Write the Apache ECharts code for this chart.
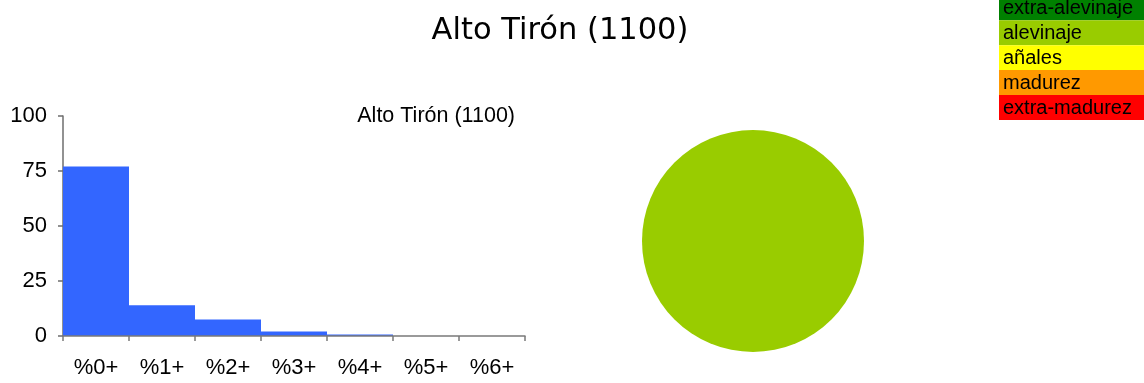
<!DOCTYPE html>
<html>
<head>
<meta charset="utf-8">
<script src="https://cdn.jsdelivr.net/npm/echarts@6/dist/echarts.min.js"></script>
<style>
  html, body { margin: 0; padding: 0; background: #fff; }
  #chart { width: 1144px; height: 383px; }
</style>
</head>
<body>
<div id="chart"></div>
<script>
// Station title
const stationName = 'Alto Tirón (1100)';

// Size-class histogram (percent of catch)
const classLabels = ['%0+', '%1+', '%2+', '%3+', '%4+', '%5+', '%6+'];
const classValues = [77, 14, 7.5, 2, 0.7, 0, 0];
const yTicks = [0, 25, 50, 75, 100];

// Life-stage composition shown in the pie
const stageNames = ['extra-alevinaje', 'alevinaje', 'añales', 'madurez', 'extra-madurez'];
const stageValues = [0, 100, 0, 0, 0];
const stageColors = ['#008000', '#99CC00', '#FFFF00', '#FF9900', '#FF0000'];

const FONT = '"Liberation Sans", Arial, sans-serif';
const BAR_BLUE = '#3366FF';

const chart = echarts.init(document.getElementById('chart'), null, { renderer: 'canvas' });

// Stage key: coloured rows stacked in the top-right corner
const keyRows = [];
stageNames.forEach((name, i) => {
  const top = -4.6 + 24.9 * i;
  keyRows.push({
    type: 'rect',
    shape: { x: 999, y: top, width: 150, height: 24.9 },
    style: { fill: stageColors[i] },
    silent: true
  });
  keyRows.push({
    type: 'text',
    x: 1003,
    y: top + 13,
    style: {
      text: name,
      fill: '#000',
      font: '20px ' + FONT,
      verticalAlign: 'middle',
      align: 'left'
    },
    silent: true
  });
});

chart.setOption({
  animation: false,
  backgroundColor: '#fff',
  graphic: [
    {
      type: 'text',
      x: 560,
      y: 31,
      style: {
        text: stationName,
        fill: '#000',
        font: '30.5px "DejaVu Sans", sans-serif',
        align: 'center',
        verticalAlign: 'middle'
      }
    },
    {
      type: 'text',
      x: 515,
      y: 116,
      style: {
        text: stationName,
        fill: '#000',
        font: '21.5px ' + FONT,
        align: 'right',
        verticalAlign: 'middle'
      }
    }
  ].concat(keyRows),
  // 462px plot width -> 66px per class, so adjacent bars meet on whole pixels
  grid: { left: 63, right: 619, top: 116, bottom: 47, containLabel: false },
  xAxis: {
    type: 'category',
    z: 3, // axis line drawn over the bar bottoms
    data: classLabels,
    boundaryGap: true,
    axisLine: { lineStyle: { color: '#7a7a7a', width: 1.5 } },
    axisTick: { show: true, length: 5, lineStyle: { color: '#7a7a7a', width: 1.5 } },
    axisLabel: { color: '#000', fontFamily: FONT, fontSize: 22, margin: 21 },
    splitLine: { show: false },
    splitArea: { show: false }
  },
  yAxis: {
    type: 'value',
    min: yTicks[0],
    max: yTicks[yTicks.length - 1],
    interval: 25,
    axisLine: { show: true, lineStyle: { color: '#6e6e6e', width: 1.5 } },
    axisTick: { show: true, length: 5, lineStyle: { color: '#6e6e6e', width: 1.5 } },
    splitLine: { show: false },
    axisLabel: { color: '#000', fontFamily: FONT, fontSize: 22, margin: 16 }
  },
  series: [
    {
      type: 'bar',
      barWidth: '100%',
      barCategoryGap: 0,
      silent: true,
      data: classValues,
      itemStyle: { color: BAR_BLUE }
    },
    {
      type: 'pie',
      center: [753, 241],
      radius: 111,
      label: { show: false },
      labelLine: { show: false },
      silent: true,
      data: stageNames.map((n, i) => ({
        name: n,
        value: stageValues[i],
        itemStyle: { color: stageColors[i] }
      }))
    }
  ]
});
</script>
</body>
</html>
